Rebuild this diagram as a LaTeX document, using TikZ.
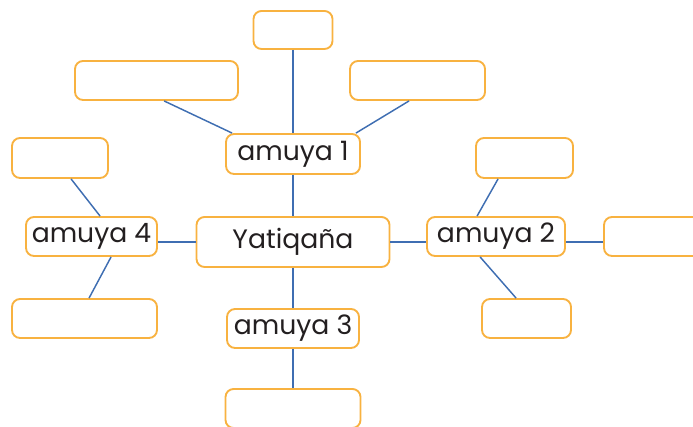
\documentclass[tikz,border=0pt]{standalone}
\usepackage{fontspec}
\setmainfont{Poppins}
\usetikzlibrary{calc}
\tikzset{>=latex}
\definecolor{boxorange}{HTML}{F8B240}
\definecolor{lineblue}{HTML}{3F6EB2}
\definecolor{textgray}{HTML}{231F20}

\begin{document}
\begin{tikzpicture}[x=0.75pt,y=-0.75pt,
		box/.style = {draw=boxorange, line width=1.4pt, fill=white,
			rounded corners=6pt, inner sep=0pt, text=textgray,
			font=\fontsize{20}{24}\selectfont
		},
		link/.style = {draw=lineblue, line width=1.1pt},
	]
	\useasboundingbox (0,0) rectangle (693,427);
	\clip (0,0) rectangle (693,427);
	% main nodes
	\node[box, minimum width=193*0.75pt, minimum height=50*0.75pt] (yat) at (293,242) {Yatiqaña};
	\node[box, minimum width=134*0.75pt, minimum height=40*0.75pt] (a1) at (293,154) {amuya 1};
	\node[box, minimum width=138*0.75pt, minimum height=39*0.75pt] (a2) at (496,236.5) {amuya 2};
	\node[box, minimum width=132*0.75pt, minimum height=39*0.75pt] (a3) at (293,328.5) {amuya 3};
	\node[box, minimum width=131*0.75pt, minimum height=39*0.75pt] (a4) at (91.5,236.5) {amuya 4};
	% empty boxes
	\node[box, minimum width=79*0.75pt, minimum height=38*0.75pt] (a1t) at (293,30) {};
	\node[box, minimum width=163*0.75pt, minimum height=39*0.75pt] (a1l) at (156.5,80.5) {};
	\node[box, minimum width=135*0.75pt, minimum height=39*0.75pt] (a1r) at (417.5,80.5) {};
	\node[box, minimum width=97*0.75pt, minimum height=40*0.75pt] (a2t) at (524.5,158) {};
	\node[box, minimum width=110*0.75pt, minimum height=39*0.75pt] (a2r) at (659,236.5) {};
	\node[box, minimum width=89*0.75pt, minimum height=39*0.75pt] (a2b) at (526.5,318.5) {};
	\node[box, minimum width=135*0.75pt, minimum height=39*0.75pt] (a3b) at (293,408.5) {};
	\node[box, minimum width=96*0.75pt, minimum height=40*0.75pt] (a4t) at (60,158) {};
	\node[box, minimum width=145*0.75pt, minimum height=39*0.75pt] (a4b) at (84.5,318.5) {};
	% connectors
	\draw[link] (a1t) -- (a1);
	\draw[link] (a1) -- (yat);
	\draw[link] (yat) -- (a3);
	\draw[link] (a3) -- (a3b);
	\draw[link] ($(a1l.south west)+(90,0)$) -- ($(a1.north west)+(7,0)$);
	\draw[link] ($(a1r.south west)+(60,0)$) -- ($(a1.north east)+(-5,0)$);
	\draw[link] (yat.west) -- (yat.west -| a4.east);
	\draw[link] (yat.east) -- (yat.east -| a2.west);
	\draw[link] (yat.east -| a2.east) -- (yat.east -| a2r.west);
	\draw[link] ($(a2t.south west)+(23,0)$) -- ($(a2.north west)+(51,0)$);
	\draw[link] ($(a2.south west)+(54,0)$) -- ($(a2b.north west)+(35,0)$);
	\draw[link] ($(a4t.south west)+(60,0)$) -- ($(a4.north west)+(75,0)$);
	\draw[link] ($(a4.south west)+(86,0)$) -- ($(a4b.north west)+(78,0)$);
\end{tikzpicture}
\end{document}
